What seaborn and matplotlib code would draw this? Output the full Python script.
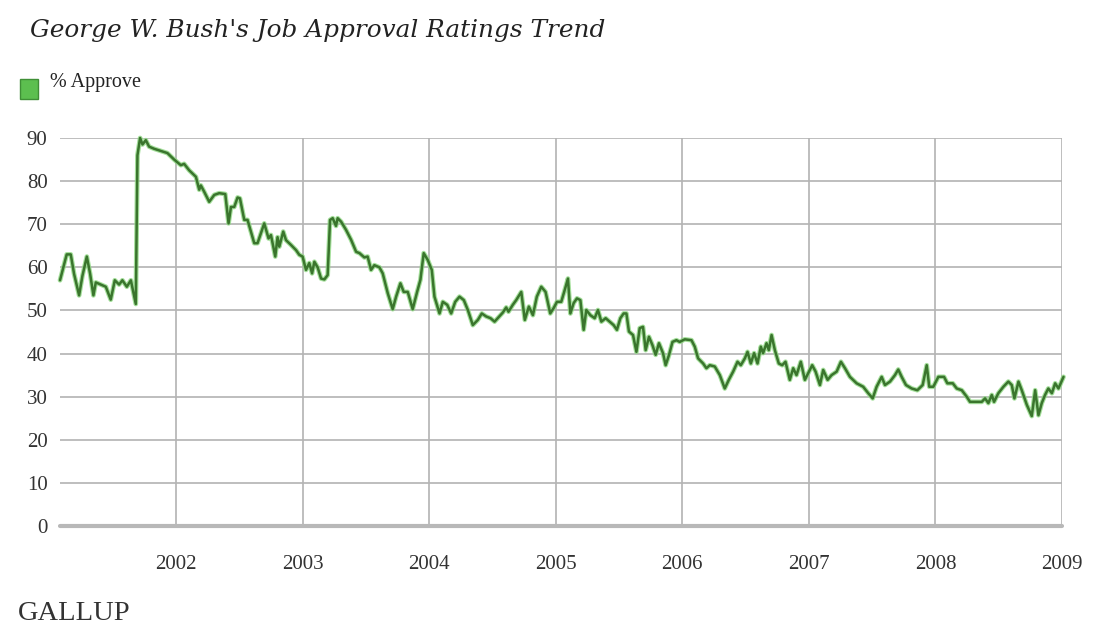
import numpy as np
import pandas as pd
import seaborn as sns
import matplotlib.pyplot as plt
from matplotlib.patches import Rectangle

# poll dates as decimal years, % approve
poll_date = [
    2001.082, 2001.135, 2001.167, 2001.193, 2001.233, 2001.259, 2001.294, 2001.320,
    2001.346, 2001.365, 2001.404, 2001.444, 2001.483, 2001.515, 2001.549, 2001.575,
    2001.610, 2001.642, 2001.681, 2001.694, 2001.715, 2001.734, 2001.760, 2001.786,
    2001.826, 2001.879, 2001.931, 2001.984,
    2002.037, 2002.063, 2002.103, 2002.156, 2002.182, 2002.195, 2002.222, 2002.261,
    2002.301, 2002.340, 2002.388, 2002.414, 2002.433, 2002.459, 2002.485, 2002.504,
    2002.538, 2002.564, 2002.617, 2002.643, 2002.696, 2002.730, 2002.749, 2002.783,
    2002.801, 2002.815, 2002.846, 2002.868, 2002.907, 2002.947, 2002.973, 2002.999,
    2003.026, 2003.052, 2003.074, 2003.092, 2003.118, 2003.145, 2003.171, 2003.197,
    2003.216, 2003.237, 2003.263, 2003.276, 2003.303, 2003.342, 2003.382, 2003.422,
    2003.448, 2003.487, 2003.513, 2003.540, 2003.566, 2003.606, 2003.632, 2003.672,
    2003.711, 2003.738, 2003.772, 2003.798, 2003.830, 2003.869, 2003.904, 2003.930,
    2003.956, 2003.988,
    2004.020, 2004.041, 2004.081, 2004.107, 2004.142, 2004.173, 2004.205, 2004.239,
    2004.273, 2004.305, 2004.344, 2004.384, 2004.415, 2004.450, 2004.484, 2004.516,
    2004.547, 2004.581, 2004.608, 2004.626, 2004.660, 2004.687, 2004.727, 2004.755,
    2004.787, 2004.819, 2004.850, 2004.885, 2004.919, 2004.956, 2004.982,
    2005.009, 2005.043, 2005.070, 2005.096, 2005.115, 2005.141, 2005.167, 2005.194,
    2005.220, 2005.241, 2005.273, 2005.307, 2005.333, 2005.360, 2005.394, 2005.425,
    2005.457, 2005.483, 2005.510, 2005.536, 2005.558, 2005.578, 2005.610, 2005.637,
    2005.663, 2005.689, 2005.710, 2005.736, 2005.763, 2005.789, 2005.815, 2005.847,
    2005.868, 2005.895, 2005.922, 2005.953, 2005.979,
    2006.019, 2006.072, 2006.098, 2006.124, 2006.164, 2006.190, 2006.217, 2006.256,
    2006.296, 2006.335, 2006.367, 2006.401, 2006.436, 2006.462, 2006.494, 2006.515,
    2006.541, 2006.567, 2006.594, 2006.620, 2006.638, 2006.665, 2006.683, 2006.705,
    2006.731, 2006.762, 2006.789, 2006.815, 2006.849, 2006.876, 2006.902, 2006.936,
    2006.968, 2006.994,
    2007.026, 2007.053, 2007.087, 2007.113, 2007.148, 2007.179, 2007.219, 2007.253,
    2007.285, 2007.324, 2007.377, 2007.429, 2007.469, 2007.504, 2007.535, 2007.575,
    2007.601, 2007.641, 2007.680, 2007.706, 2007.733, 2007.767, 2007.812, 2007.857,
    2007.899, 2007.931, 2007.951, 2007.983,
    2008.023, 2008.068, 2008.094, 2008.137, 2008.168, 2008.208, 2008.247, 2008.273,
    2008.326, 2008.366, 2008.392, 2008.418, 2008.445, 2008.463, 2008.497, 2008.537,
    2008.576, 2008.603, 2008.624, 2008.656, 2008.682, 2008.722, 2008.761, 2008.788,
    2008.814, 2008.840, 2008.866, 2008.892, 2008.920, 2008.946, 2008.972, 2009.012,
]
approve = [
    57, 63, 63, 58.5, 53.5, 58, 62.5, 58.5,
    53.5, 56.5, 56, 55.5, 52.5, 57, 56, 57,
    55.5, 57, 51.5, 86, 90, 88.5, 89.5, 88,
    87.5, 87, 86.5, 85,
    83.7, 84, 82.5, 81, 78, 79, 77.5, 75.2,
    76.8, 77.2, 77, 70.2, 74, 74, 76.2, 76,
    71, 71, 65.6, 65.6, 70.2, 66.7, 67.5, 62.5,
    67, 64.8, 68.3, 66.3, 65.2, 64, 62.9, 62.5,
    59.4, 61, 58.6, 61.3, 60, 57.4, 57.2, 58.2,
    71, 71.4, 69.6, 71.4, 70.6, 68.7, 66.4, 63.6,
    63.3, 62.3, 62.5, 59.4, 60.5, 60, 58.6, 54,
    50.3, 53.2, 56.3, 54.3, 54.3, 50.3, 54.3, 57.1,
    63.3, 61.7,
    59.4, 53.2, 49.3, 52, 51.3, 49.3, 52, 53.2,
    52.4, 50.1, 46.6, 47.8, 49.3, 48.6, 48.2, 47.4,
    48.4, 49.5, 50.7, 49.7, 51.3, 52.4, 54.3, 47.8,
    50.9, 48.9, 53.2, 55.5, 54.3, 49.3, 50.5,
    52, 52, 54.7, 57.4, 49.3, 51.7, 52.8, 52.4,
    45.5, 50.1, 48.9, 48.2, 50.1, 47.4, 48.2, 47.4,
    46.6, 45.5, 48.2, 49.3, 49.3, 45.1, 44.3, 40.4,
    45.9, 46.2, 40.8, 43.9, 42, 39.7, 42.4, 40.1,
    37.3, 39.7, 42.7, 43.1, 42.7,
    43.3, 43.1, 41.6, 38.9, 37.7, 36.6, 37.3, 37,
    35, 31.9, 33.9, 35.8, 38.1, 37.3, 38.9, 40.4,
    37.7, 40.1, 37.7, 41.6, 40.1, 42.4, 40.8, 44.3,
    40.8, 37.7, 37.3, 38.1, 33.9, 36.6, 35, 38.1,
    33.9, 35.4,
    37.3, 35.8, 32.7, 36.2, 33.9, 35, 35.8, 38.1,
    36.6, 34.6, 33.1, 32.3, 30.8, 29.6, 32.3, 34.6,
    32.7, 33.5, 35, 36.3, 34.6, 32.7, 31.9, 31.5,
    32.7, 37.3, 32.3, 32.3,
    34.6, 34.6, 33.1, 33.1, 31.9, 31.5, 30, 28.8,
    28.8, 28.8, 29.6, 28.5, 30.4, 28.8, 30.8, 32.3,
    33.5, 32.7, 29.6, 33.5, 31.5, 28.1, 25.5, 31.5,
    25.7, 28.5, 30.4, 31.9, 30.8, 33.1, 31.9, 34.6,
]
year_ticks = [2002, 2003, 2004, 2005, 2006, 2007, 2008, 2009]
y_ticks = [0, 10, 20, 30, 40, 50, 60, 70, 80, 90]

df = pd.DataFrame({"date": poll_date, "approve": approve})

sns.set_style("white")
plt.rcParams["font.family"] = ["Liberation Serif", "DejaVu Serif"]

fig = plt.figure(figsize=(10.93, 6.39), dpi=100)
ax = fig.add_axes([60 / 1093, 1 - 526 / 639, (1062 - 60) / 1093, (526 - 138) / 639])

grid_col = "#b3b3b3"
for y in y_ticks[1:]:
    ax.axhline(y, color=grid_col, lw=1.2, zorder=1)
for x in year_ticks:
    ax.axvline(x, color=grid_col, lw=1.2, zorder=1)
ax.axhline(0, color="#b8b8b8", lw=3, zorder=1, clip_on=False)

# soft light-green halo under the dark green line
sns.lineplot(data=df, x="date", y="approve", ax=ax, color="#8fd883", lw=3.4,
             alpha=0.8, zorder=2)
sns.lineplot(data=df, x="date", y="approve", ax=ax, color="#3a752d", lw=1.8,
             zorder=3)
for ln in ax.lines[-2:]:
    ln.set_clip_on(False)

ax.set_xlim(2001.082, 2009.0)
ax.set_ylim(0, 90)
ax.set_xticks(year_ticks)
ax.set_yticks(y_ticks)
ax.set_xticklabels([str(y) for y in year_ticks], fontsize=15, color="#333333")
ax.set_yticklabels([str(y) for y in y_ticks], fontsize=15, color="#333333")
ax.tick_params(axis="both", length=0)
ax.tick_params(axis="x", pad=21)
ax.tick_params(axis="y", pad=9)
ax.set_xlabel("")
ax.set_ylabel("")
for s in ax.spines.values():
    s.set_visible(False)

fig.text(30 / 1093, 1 - 30 / 639, "George W. Bush's Job Approval Ratings Trend",
         fontsize=17.8, style="italic", family=["DejaVu Serif"], color="#222222",
         va="center", ha="left")
fig.patches.append(Rectangle((20 / 1093, 1 - 99 / 639), 18 / 1093, 20 / 639,
                             transform=fig.transFigure, facecolor="#5cbf4f",
                             edgecolor="#3f8f36", lw=1))
fig.text(50 / 1093, 1 - 82 / 639, "% Approve", fontsize=14.5, color="#222222",
         va="center", ha="left")
fig.text(18 / 1093, 1 - 613 / 639, "GALLUP", fontsize=20.5, color="#333333",
         va="center", ha="left")

fig.savefig("out.png", dpi=100, facecolor="white")
